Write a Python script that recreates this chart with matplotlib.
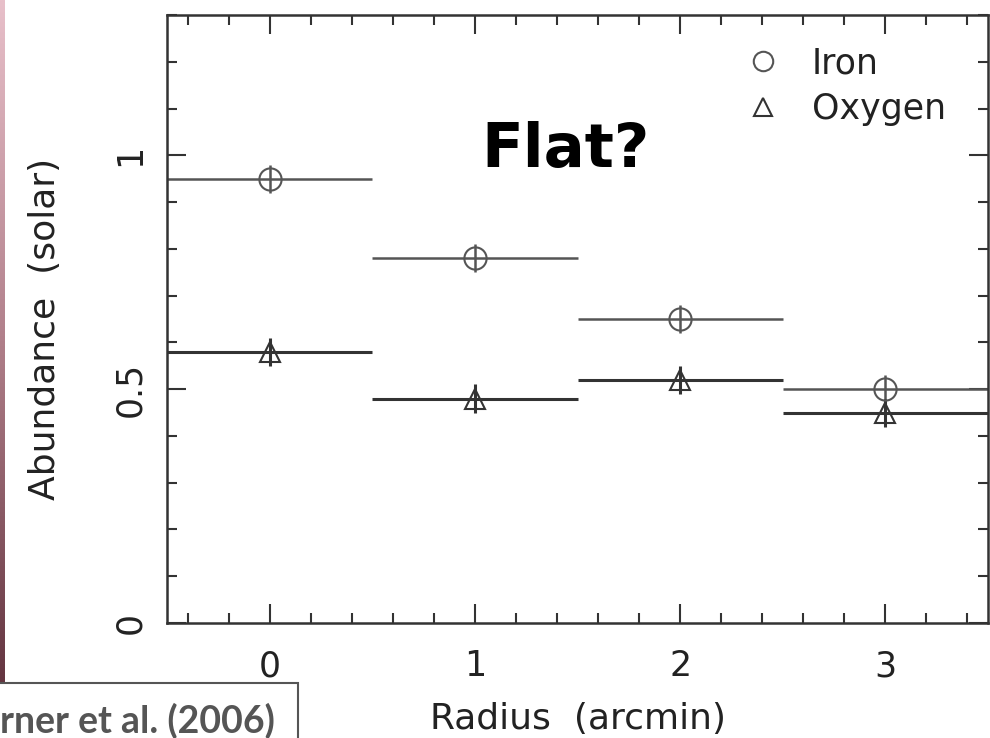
import matplotlib
matplotlib.use('Agg')
import matplotlib.pyplot as plt
from matplotlib.lines import Line2D
from matplotlib.patches import Rectangle
from matplotlib.colors import LinearSegmentedColormap
from matplotlib.ticker import MultipleLocator
import numpy as np

radius = [0, 1, 2, 3]
bin_halfwidth = [0.5, 0.5, 0.5, 0.5]
iron = [0.95, 0.78, 0.65, 0.50]
iron_err = [0.03, 0.03, 0.03, 0.03]
oxygen = [0.58, 0.48, 0.52, 0.45]
oxygen_err = [0.03, 0.03, 0.03, 0.03]

plt.rcParams['font.family'] = ['DejaVu Sans']

fig = plt.figure(figsize=(9.9, 7.38), dpi=100)
fig.patch.set_facecolor('white')

# pink slide strip on the left edge
strip = fig.add_axes([0, 55 / 738, 5 / 990, 683 / 738])
cmap = LinearSegmentedColormap.from_list('slide', ['#e8c0ca', '#b07f8a', '#643540'])
strip.imshow(np.linspace(0, 1, 256).reshape(-1, 1), aspect='auto', cmap=cmap)
strip.axis('off')

ax = fig.add_axes([167 / 990, 1 - 623 / 738, 821 / 990, 608 / 738])

ax.errorbar(radius, iron, xerr=bin_halfwidth, yerr=iron_err, fmt='o',
            mfc='none', mec='#555555', mew=1.5, ms=16,
            ecolor='#555555', elinewidth=1.8, capsize=0)
ax.errorbar(radius, oxygen, xerr=bin_halfwidth, yerr=oxygen_err, fmt='^',
            mfc='none', mec='#333333', mew=1.5, ms=15,
            ecolor='#333333', elinewidth=2.2, capsize=0)

ax.set_xlim(-0.5, 3.5)
ax.set_ylim(0, 1.3)
ax.xaxis.set_major_locator(MultipleLocator(1))
ax.xaxis.set_minor_locator(MultipleLocator(0.2))
ax.yaxis.set_minor_locator(MultipleLocator(0.1))
ax.set_yticks([0, 0.5, 1])
ax.set_yticklabels(['0', '0.5', '1'])

ax.tick_params(which='both', direction='in', top=True, right=True,
               color='#333333', width=1.5, labelsize=25, labelcolor='#222222')
ax.tick_params(which='major', length=14)
ax.tick_params(which='minor', length=7)
ax.tick_params(axis='x', which='major', pad=19)
ax.tick_params(axis='y', which='major', pad=14)
for lab in ax.get_yticklabels():
    lab.set_rotation(90)
    lab.set_va('center')
for sp in ax.spines.values():
    sp.set_color('#333333')
    sp.set_linewidth(1.8)

ax.set_xlabel('Radius  (arcmin)', fontsize=26, color='#222222', va='baseline')
ax.set_ylabel('Abundance  (solar)', fontsize=26, color='#222222')
ax.xaxis.set_label_coords(0.5, (623 - 729) / 608)
ax.yaxis.set_label_coords(-0.128, 0.484)

handles = [Line2D([], [], marker='o', ls='none', mfc='none', mec='#555555', mew=1.5, ms=14),
           Line2D([], [], marker='^', ls='none', mfc='none', mec='#333333', mew=1.5, ms=13)]
ax.legend(handles, ['Iron', 'Oxygen'], loc='upper left', bbox_to_anchor=(0.646, 1.0),
          frameon=False, fontsize=25, handletextpad=0.4, labelspacing=0.35,
          labelcolor='#222222')

ax.text(1.44, 1.01, 'Flat?', fontsize=44, fontweight='bold', color='black',
        ha='center', va='center')

# citation box in the lower left corner
fig.patches.append(Rectangle((-10 / 990, -20 / 738), 308 / 990, 75 / 738,
                             transform=fig.transFigure, facecolor='white',
                             edgecolor='#555555', linewidth=1.5))
fig.text(0.5 / 990, 1 - 733 / 738, 'rner et al. (2006)', fontsize=27, fontweight='bold',
         color='#555555', ha='left', va='baseline', family='Lato')

fig.savefig('out.png', dpi=100)
